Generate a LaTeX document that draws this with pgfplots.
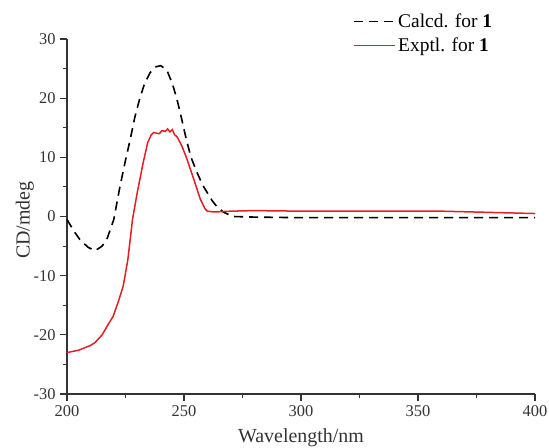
\documentclass[border=0pt]{standalone}
\usepackage{pgfplots}
\pgfplotsset{compat=1.18}
\usepackage{fontspec}
\setmainfont{Liberation Serif}
\definecolor{expred}{RGB}{228,30,36}
\begin{document}
\begin{tikzpicture}
\begin{axis}[
  at={(0,0)}, anchor=south west,
  scale only axis,
  width=468bp, height=355bp,
  xmin=200, xmax=400, ymin=-30, ymax=30,
  axis x line*=bottom, axis y line*=left,
  axis line style={line width=1.2bp, black!80},
  xtick={200,250,...,400}, ytick={-30,-20,...,30},
  minor x tick num=1, minor y tick num=1,
  tick align=outside,
  major tick length=7bp, minor tick length=4bp,
  tick style={line width=1.1bp, black!80},
  ticklabel style={font=\fontsize{16.5}{18}\selectfont, text=black!80},
  /pgf/number format/assume math mode=true,
  xticklabel style={yshift=-1bp},
  yticklabel style={xshift=-1bp},
  xlabel={Wavelength/nm}, ylabel={CD/mdeg},
  label style={font=\fontsize{20}{22}\selectfont, text=black!80},
  xlabel style={at={(axis description cs:0.5,-0.124)}, anchor=center},
  ylabel style={at={(axis description cs:-0.09,0.49)}, anchor=center, rotate=0},
  legend style={draw=none, fill=none, at={(rel axis cs:0.913,1.077)}, anchor=north east,
    font=\fontsize{19.5}{22}\selectfont, row sep=5bp, inner sep=0bp},
  legend cell align=left,
  legend image code/.code={\draw[#1, line width=1.6bp] (0cm,0cm) -- (1.45cm,0cm);},
  clip=false,
]
\addplot[black, line width=1.6bp, dash pattern=on 9bp off 6bp] coordinates {
(200,-0.5) (203,-2.5) (205.5,-3.9) (209,-5.2) (212,-5.8) (215,-5) (217,-3.9)
(220,-0.5) (222.6,5) (225,9.5) (227,13) (229,16.8) (231,19.8) (233,22.3)
(235.5,24.3) (238,25.3) (240,25.5) (242.6,24.8) (245,22.5) (247,19.8)
(249,16.5) (251,13) (253,10) (255.6,7.4) (258,5.3) (260,4) (262,2.7)
(264,1.7) (267,0.7) (271,0) (280,-0.1) (300,-0.2) (350,-0.2) (400,-0.2)
};
\addlegendentry{Calcd. for \textbf{1}}
\addplot[expred, line width=1.5bp] coordinates {
(200,-23) (205,-22.6) (210,-21.8) (212,-21.3) (215,-20) (217.5,-18.3)
(219.7,-16.9) (222,-14.3) (224,-11.8) (226,-7.3) (228,-0.5) (230,4)
(232.5,9) (234.5,12.5) (236,13.8) (237,14.2) (238,14.1) (239.5,14.0)
(240.5,14.5) (242,14.4) (243,14.8) (244,14.3) (245,14.7) (246,13.8)
(247,13.5) (249,12) (251,10) (254,6.5) (257,2.9) (259,1.3) (260,0.9)
(262,0.8) (265,0.8) (270,0.9) (280,1.0) (300,0.9) (340,0.9) (360,0.9)
(380,0.7) (400,0.5)
};
\addlegendentry{Exptl. for \textbf{1}}
\end{axis}
\pgfresetboundingbox
\path (-67bp,-54bp) rectangle (482bp,394bp);
\end{tikzpicture}
\end{document}
